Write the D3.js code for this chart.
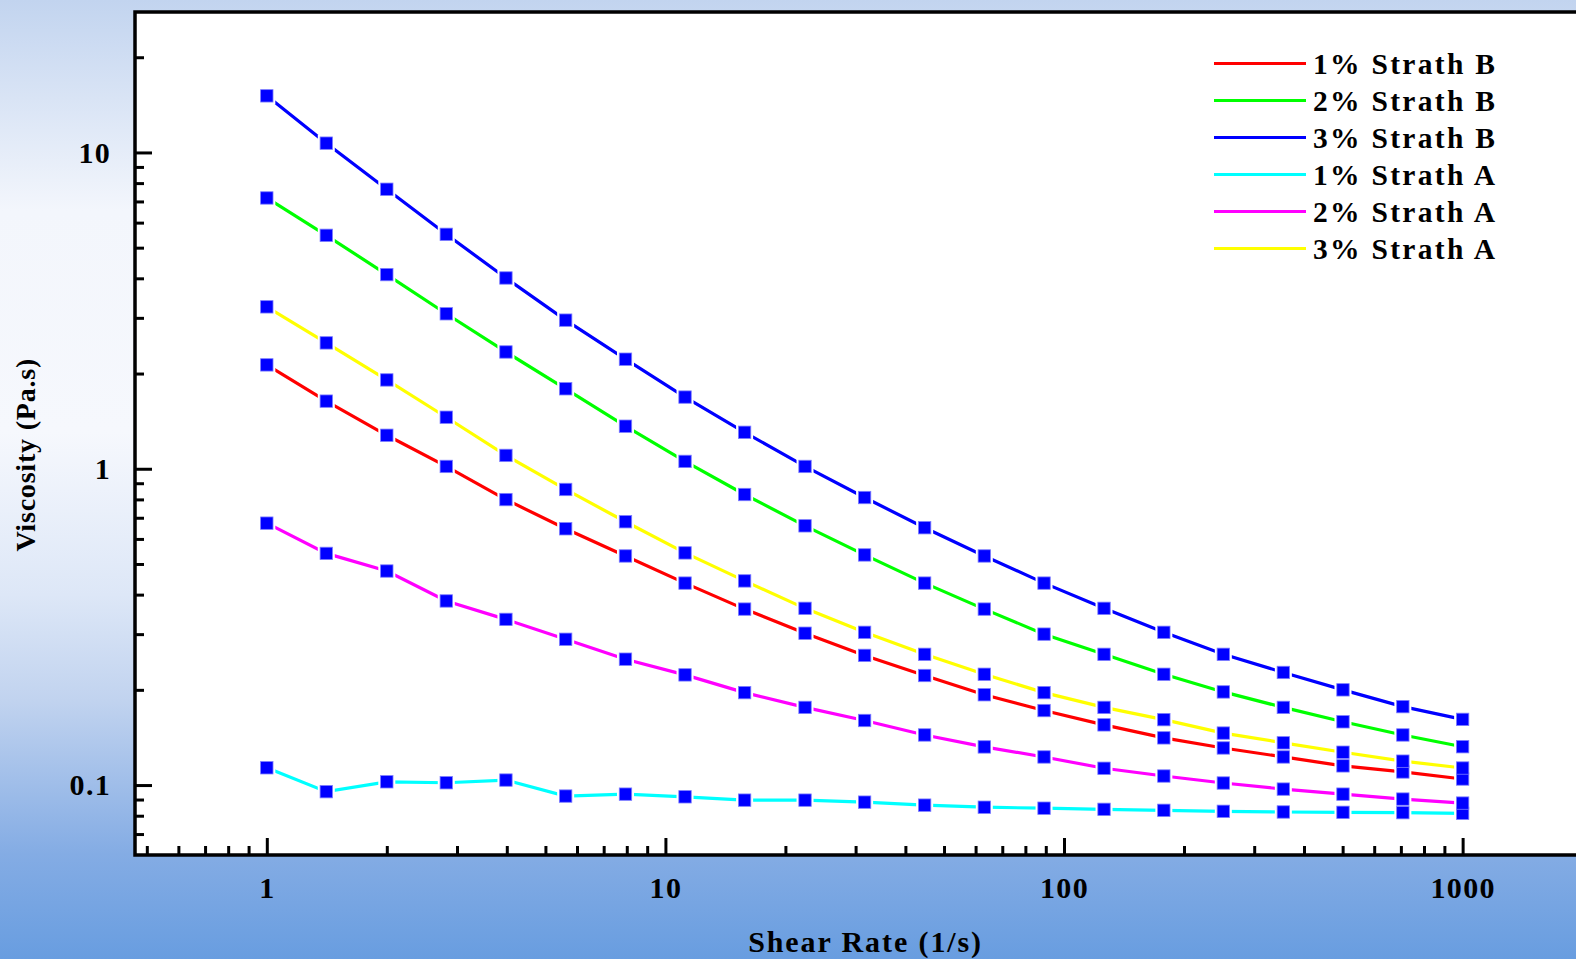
<!DOCTYPE html>
<html>
<head>
<meta charset="utf-8">
<script src="https://cdn.jsdelivr.net/npm/d3@7"></script>
<style>
  html, body { margin: 0; padding: 0; }
  body {
    width: 1576px; height: 959px; overflow: hidden;
    background: linear-gradient(to bottom, #c2d4ef 0%, #f3f6fc 22%, #f6f8fd 45%, #dde7f7 62%, #c1d3ef 73%, #84ace4 89%, #689de0 100%);
  }
  svg { display: block; }
  text { font-family: "Liberation Serif", "Times New Roman", serif; font-weight: bold; fill: #000; }
</style>
</head>
<body>
<script>

// shear rate (1/s) and viscosity (Pa.s)
var shearRate = [1, 1.41, 2, 2.82, 3.98, 5.62, 7.94, 11.2, 15.8, 22.4, 31.6, 44.7, 63.1, 89.1, 126, 178, 251, 355, 501, 708, 1000];

var strathB1 = [2.13, 1.636, 1.276, 1.017, 0.799, 0.646, 0.530, 0.435, 0.360, 0.302, 0.257, 0.222, 0.193, 0.172, 0.155, 0.141, 0.131, 0.1227, 0.115, 0.110, 0.1045];
var strathB2 = [7.18, 5.47, 4.11, 3.09, 2.34, 1.79, 1.363, 1.055, 0.829, 0.660, 0.534, 0.435, 0.360, 0.300, 0.259, 0.224, 0.197, 0.176, 0.1585, 0.144, 0.1322];
var strathB3 = [15.1, 10.7, 7.65, 5.51, 4.01, 2.95, 2.22, 1.685, 1.304, 1.017, 0.811, 0.651, 0.530, 0.435, 0.362, 0.304, 0.259, 0.227, 0.200, 0.177, 0.1613];
var strathA1 = [0.1134, 0.0953, 0.1024, 0.1017, 0.1037, 0.0923, 0.0936, 0.0918, 0.0896, 0.0896, 0.0883, 0.0864, 0.0851, 0.0845, 0.0838, 0.0832, 0.0826, 0.0822, 0.0820, 0.0818, 0.0814];
var strathA2 = [0.673, 0.540, 0.475, 0.382, 0.334, 0.289, 0.250, 0.223, 0.196, 0.176, 0.160, 0.144, 0.132, 0.1227, 0.113, 0.1068, 0.1015, 0.0971, 0.0936, 0.0903, 0.0877];
var strathA3 = [3.25, 2.50, 1.909, 1.455, 1.102, 0.860, 0.680, 0.542, 0.442, 0.362, 0.304, 0.259, 0.224, 0.196, 0.176, 0.161, 0.146, 0.136, 0.127, 0.119, 0.1132];

var seriesNames = ["1% Strath B", "2% Strath B", "3% Strath B", "1% Strath A", "2% Strath A", "3% Strath A"];
var seriesColors = ["#ff0000", "#00ff00", "#0000ff", "#00ffff", "#ff00ff", "#ffff00"];
var seriesValues = [strathB1, strathB2, strathB3, strathA1, strathA2, strathA3];

var xMajor = [1, 10, 100, 1000];
var xMinor = [0.5, 0.6, 0.7, 0.8, 0.9, 2, 3, 4, 5, 6, 7, 8, 9, 20, 30, 40, 50, 60, 70, 80, 90, 200, 300, 400, 500, 600, 700, 800, 900];
var yMajor = [0.1, 1, 10];
var yMinor = [0.07, 0.08, 0.09, 0.2, 0.3, 0.4, 0.5, 0.6, 0.7, 0.8, 0.9, 2, 3, 4, 5, 6, 7, 8, 9, 20];

var W = 1576, H = 959;
var margin = {top: 12, right: 0, bottom: 104, left: 135},
    width = W - margin.left - margin.right,
    height = H - margin.top - margin.bottom;

var x = d3.scaleLog().domain([0.467, 1925]).range([0, width]);
var y = d3.scaleLog().domain([0.0601, 27.8]).range([height, 0]);

var svg = d3.select("body").append("svg")
    .attr("width", W)
    .attr("height", H)
  .append("g")
    .attr("transform", "translate(" + margin.left + "," + margin.top + ")");

svg.append("rect")
    .attr("width", width)
    .attr("height", height)
    .attr("fill", "#fff");

var fmt = function(d) { return String(d); };

// minor ticks
svg.append("g")
    .attr("class", "axis")
    .attr("transform", "translate(0," + height + ")")
    .call(d3.axisBottom(x).tickValues(xMinor).tickSizeInner(-9).tickSizeOuter(0).tickFormat(""));
svg.append("g")
    .attr("class", "axis")
    .call(d3.axisLeft(y).tickValues(yMinor).tickSizeInner(-9).tickSizeOuter(0).tickFormat(""));

// major ticks + labels
svg.append("g")
    .attr("class", "axis")
    .attr("transform", "translate(0," + height + ")")
    .call(d3.axisBottom(x).tickValues(xMajor).tickSizeInner(-17).tickSizeOuter(0).tickPadding(22).tickFormat(fmt));
svg.append("g")
    .attr("class", "axis")
    .call(d3.axisLeft(y).tickValues(yMajor).tickSizeInner(-17).tickSizeOuter(0).tickPadding(24).tickFormat(fmt));

svg.selectAll(".axis path").remove();
svg.selectAll(".axis line").attr("stroke", "#000").attr("stroke-width", 3);
svg.selectAll(".axis text")
    .attr("font-family", "Liberation Serif")
    .attr("font-weight", "bold")
    .attr("font-size", 30)
    .attr("letter-spacing", 1.3)
    .attr("fill", "#000");

// frame: top, left, bottom
svg.append("path")
    .attr("d", "M" + width + ",0H0V" + height + "H" + width)
    .attr("fill", "none")
    .attr("stroke", "#000")
    .attr("stroke-width", 3.5);

var line = d3.line()
    .x(function(d, i) { return x(shearRate[i]); })
    .y(function(d) { return y(d); });

svg.selectAll(".series")
    .data(seriesValues)
  .enter().append("path")
    .attr("class", "series")
    .attr("d", line)
    .attr("fill", "none")
    .attr("stroke", function(d, i) { return seriesColors[i]; })
    .attr("stroke-width", 3.2);

var points = [];
seriesValues.forEach(function(vals) {
  vals.forEach(function(v, i) { points.push({x: shearRate[i], y: v}); });
});

// white gap round each symbol, then the symbol
svg.selectAll(".halo")
    .data(points)
  .enter().append("rect")
    .attr("class", "halo")
    .attr("x", function(d) { return x(d.x) - 8.5; })
    .attr("y", function(d) { return y(d.y) - 8.5; })
    .attr("width", 17)
    .attr("height", 17)
    .attr("fill", "#fff");

svg.selectAll(".sym")
    .data(points)
  .enter().append("rect")
    .attr("class", "sym")
    .attr("x", function(d) { return x(d.x) - 6.2; })
    .attr("y", function(d) { return y(d.y) - 6.2; })
    .attr("width", 12.4)
    .attr("height", 12.4)
    .attr("fill", "#0000ff")
    .attr("stroke", "#7d7dff")
    .attr("stroke-width", 0.8);

// legend
var legend = svg.append("g")
    .attr("transform", "translate(1079,51.5)");

var item = legend.selectAll(".item")
    .data(seriesNames)
  .enter().append("g")
    .attr("class", "item")
    .attr("transform", function(d, i) { return "translate(0," + (i * 37) + ")"; });

item.append("line")
    .attr("x1", 0)
    .attr("x2", 92)
    .attr("stroke", function(d, i) { return seriesColors[i]; })
    .attr("stroke-width", 3);

item.append("text")
    .attr("x", 99)
    .attr("dy", "0.36em")
    .attr("font-size", 29.5)
    .attr("letter-spacing", 2.3)
    .text(function(d) { return d; });

// axis titles
svg.append("text")
    .attr("x", x(31.6) + 1)
    .attr("y", height + 97)
    .attr("text-anchor", "middle")
    .attr("font-size", 30)
    .attr("letter-spacing", 1.9)
    .text("Shear Rate (1/s)");

svg.append("text")
    .attr("transform", "translate(" + (-100) + "," + (y(1) - 14) + ") rotate(-90)")
    .attr("text-anchor", "middle")
    .attr("font-size", 28)
    .attr("letter-spacing", 0.8)
    .text("Viscosity (Pa.s)");

</script>
</body>
</html>
